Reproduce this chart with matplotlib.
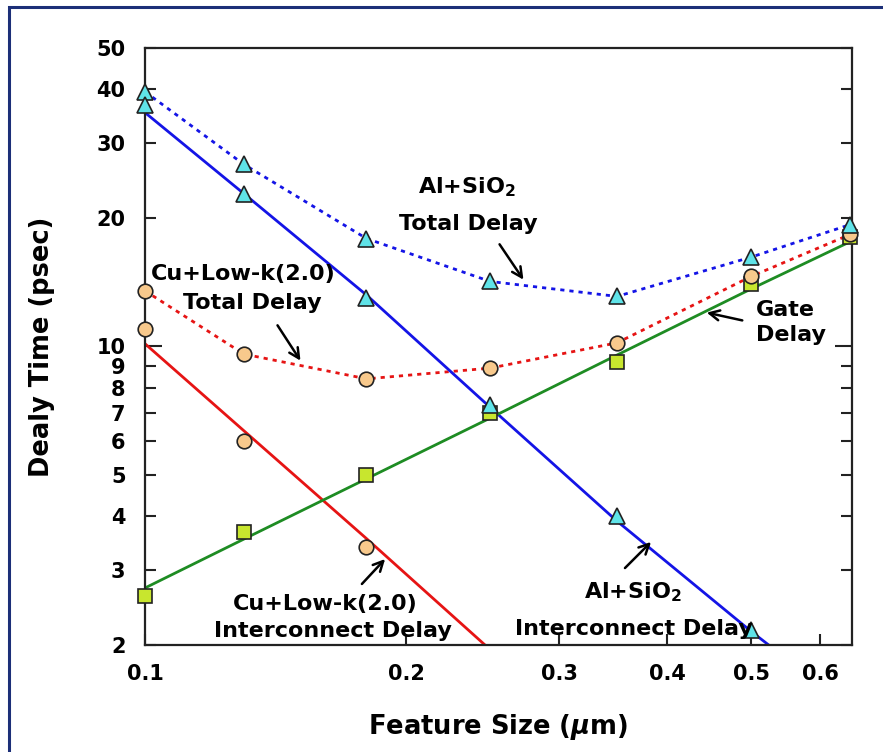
import matplotlib.pyplot as plt
from matplotlib.patches import Rectangle
from matplotlib.ticker import FixedLocator

W, H = 883, 752

plt.rcParams["font.family"] = ["DejaVu Sans"]
plt.rcParams["font.weight"] = "bold"
plt.rcParams["mathtext.fontset"] = "custom"
plt.rcParams["mathtext.rm"] = "DejaVu Sans:bold"
plt.rcParams["mathtext.it"] = "DejaVu Sans:italic:bold"

# feature size (um) and delays (psec)
size_um = [0.1, 0.13, 0.18, 0.25, 0.35, 0.5, 0.65]
al_total = [39.5, 26.7, 17.9, 14.2, 13.1, 16.2, 19.3]
cu_total = [13.5, 9.6, 8.4, 8.9, 10.2, 14.6, 18.3]
gate_pts = [2.6, 3.68, 5.0, 7.0, 9.2, 14.0, 18.0]
gate_fit = [2.72, 3.54, 4.9, 6.8, 9.55, 13.65, 17.6]

al_inter_x = [0.1, 0.13, 0.18, 0.25, 0.35, 0.5]
al_inter_pts = [36.7, 22.8, 13.0, 7.3, 4.0, 2.17]
al_fit_x = [0.1, 0.13, 0.18, 0.25, 0.35, 0.5, 0.55]
al_fit = [35.3, 22.8, 13.2, 7.2, 3.9, 2.15, 1.85]

cu_inter_x = [0.1, 0.13, 0.18]
cu_inter_pts = [11.0, 6.0, 3.4]
cu_fit_x = [0.1, 0.13, 0.18, 0.25]
cu_fit = [10.15, 6.35, 3.55, 1.95]

y_ticks = [2, 3, 4, 5, 6, 7, 8, 9, 20, 30, 40, 50]
x_ticks = [0.1, 0.2, 0.3, 0.4, 0.5, 0.6]

BLUE = "#1414e6"
RED = "#e61414"
GREEN = "#1e8c23"
TRI = "#5fe3e8"
CIRC = "#f8c98c"
SQ = "#c8e62e"


def px(x, y):
    return (x / W, 1 - y / H)


fig = plt.figure(figsize=(W / 100, H / 100), dpi=100)
ax = fig.add_axes([145 / W, 107 / H, (852 - 145) / W, (645 - 48) / H])

dots = (0, (1.5, 1.8))
ax.plot(size_um, al_total, color=BLUE, lw=2, ls=dots, zorder=2)
ax.plot(size_um, cu_total, color=RED, lw=2, ls=dots, zorder=2)
ax.plot(al_fit_x, al_fit, color=BLUE, lw=2, zorder=2)
ax.plot(cu_fit_x, cu_fit, color=RED, lw=2, zorder=2)
ax.plot(size_um, gate_fit, color=GREEN, lw=2, zorder=2)

mk = dict(ls="none", markeredgecolor="#222222", markeredgewidth=1.2, clip_on=False)
ax.plot(size_um, gate_pts, marker="s", ms=10, markerfacecolor=SQ, zorder=3, **mk)
ax.plot(size_um, cu_total, marker="o", ms=10.5, markerfacecolor=CIRC, zorder=4, **mk)
ax.plot(cu_inter_x, cu_inter_pts, marker="o", ms=10.5, markerfacecolor=CIRC, zorder=4, **mk)
ax.plot(size_um, al_total, marker="^", ms=11, markerfacecolor=TRI, zorder=5, **mk)
ax.plot(al_inter_x, al_inter_pts, marker="^", ms=11, markerfacecolor=TRI, zorder=5, **mk)

ax.set_xscale("log")
ax.set_yscale("log")
ax.set_xlim(0.1, 0.653)
ax.set_ylim(2, 50)

ax.xaxis.set_major_locator(FixedLocator(x_ticks))
ax.xaxis.set_minor_locator(FixedLocator([]))
ax.set_xticklabels([str(v) for v in x_ticks])
ax.yaxis.set_major_locator(FixedLocator([10]))
ax.yaxis.set_minor_locator(FixedLocator(y_ticks))
ax.set_yticklabels(["10"])
ax.yaxis.set_minor_formatter(plt.FixedFormatter([str(v) for v in y_ticks]))

ax.tick_params(axis="both", which="both", direction="in", labelsize=15,
               width=1.5, color="#222222")
ax.tick_params(axis="y", which="major", length=12, right=True, pad=14)
ax.tick_params(axis="y", which="minor", length=8, right=True, pad=14)
ax.tick_params(axis="x", which="major", length=8, pad=14, top=False)
for s in ax.spines.values():
    s.set_linewidth(1.6)
    s.set_color("#222222")

ax.set_xlabel(r"Feature Size ($\mu$m)", fontsize=18.5, fontweight="bold", labelpad=20)
ax.set_ylabel("Dealy Time (psec)", fontsize=18.5, fontweight="bold", labelpad=30)

txt = dict(fontsize=16, fontweight="bold", ha="center", va="baseline")
fig.text(*px(467, 193), r"Al+SiO$_2$", **txt)
fig.text(*px(468, 230), "Total Delay", **txt)
fig.text(*px(243, 280), "Cu+Low-k(2.0)", **txt)
fig.text(*px(252, 309), "Total Delay", **txt)
fig.text(*px(756, 316), "Gate", **{**txt, "ha": "left"})
fig.text(*px(756, 341), "Delay", **{**txt, "ha": "left"})
fig.text(*px(325, 610), "Cu+Low-k(2.0)", **txt)
fig.text(*px(333, 637), "Interconnect Delay", **txt)
fig.text(*px(633, 598), r"Al+SiO$_2$", **txt)
fig.text(*px(634, 635), "Interconnect Delay", **txt)

arrows = [
    ((498, 242), (525, 282)),
    ((276, 323), (302, 363)),
    ((745, 321), (704, 312)),
    ((360, 586), (387, 557)),
    ((623, 570), (653, 540)),
]
for tail, head in arrows:
    ax.annotate("", xy=px(*head), xycoords="figure fraction",
                xytext=px(*tail), textcoords="figure fraction",
                arrowprops=dict(arrowstyle="->", lw=1.8, color="black",
                                mutation_scale=18))

# outer frame (only left and top edges fall inside the canvas)
fig.patches.append(Rectangle(px(9, 800), 2, (800 - 7) / H, transform=fig.transFigure,
                             fill=False, edgecolor="#1c2f78", lw=2.2, zorder=10))

fig.savefig("out.png", dpi=100)
